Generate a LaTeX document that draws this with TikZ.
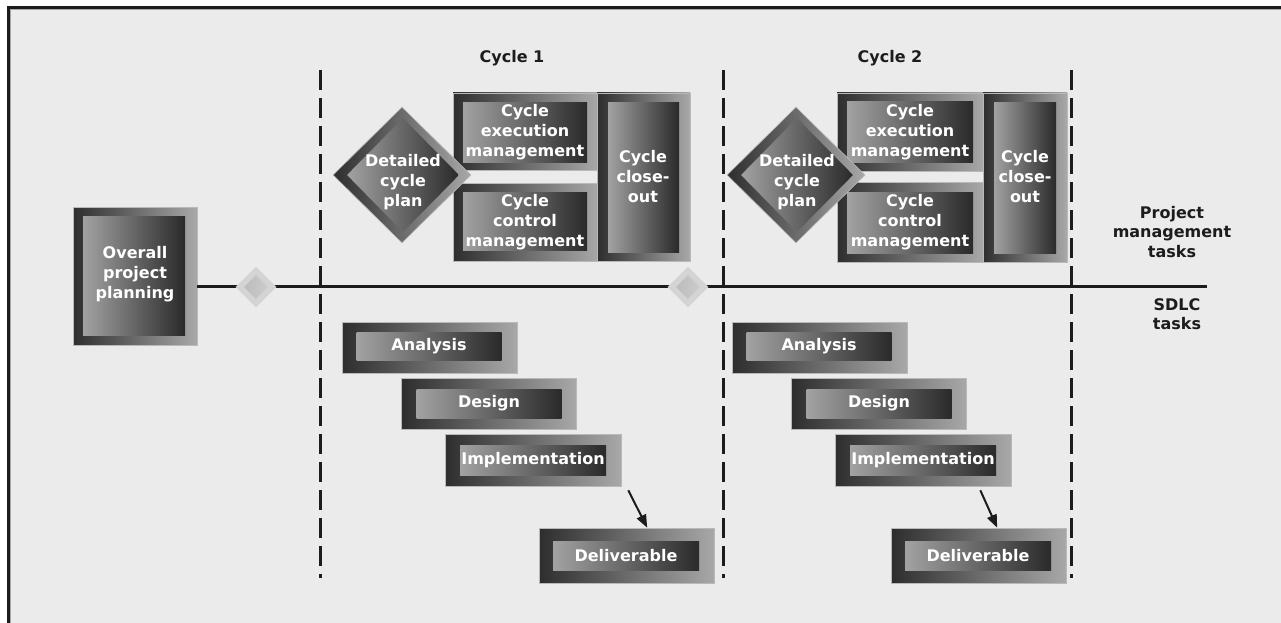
\documentclass[tikz,border=0pt]{standalone}
\usepackage{fontspec}
\setmainfont{DejaVu Sans}
\usetikzlibrary{arrows.meta,calc,shapes.geometric}
\definecolor{bg}{HTML}{EBEBEB}
\definecolor{dk}{HTML}{2E2E2E}
\definecolor{lt}{HTML}{A8A8A8}
\definecolor{ilt}{HTML}{A2A2A2}
\definecolor{idk}{HTML}{2A2A2A}
\definecolor{ink}{HTML}{1C1C1C}
\definecolor{msout}{HTML}{D4D4D4}
\definecolor{msinl}{HTML}{BCBCBC}
\definecolor{msinr}{HTML}{CCCCCC}
\begin{document}
\begin{tikzpicture}[x=1pt,y=-1pt,
  outerbox/.style={rectangle, draw=lt!80!white, line width=0.6pt, left color=dk, right color=lt, inner sep=0pt, minimum width=#1},
  outerbox/.default=175pt,
  innerbox/.style={rectangle, left color=ilt, right color=idk, inner sep=0pt, text=white, minimum width=#1},
  innerbox/.default=145pt,
  wtext/.style={text=white, font=\bfseries\fontsize{16}{20}\selectfont, align=center, inner sep=0pt},
  btext/.style={text=ink, font=\bfseries\fontsize{16}{19.5}\selectfont, align=center, inner sep=0pt},
  bigdia/.style={diamond, inner sep=0pt, shape aspect=1, draw=lt!80!white, line width=0.6pt, left color=dk, right color=lt, minimum width=138pt, minimum height=136pt},
  smalldia/.style={diamond, inner sep=0pt, left color=ilt, right color=idk, minimum width=112pt, minimum height=114pt},
  msdia/.style={diamond, inner sep=0pt, fill=msout, minimum width=41pt, minimum height=41pt},
  msdiain/.style={diamond, inner sep=0pt, left color=msinl, right color=msinr, minimum width=24pt, minimum height=24pt},
  mainline/.style={draw=ink, line width=3pt},
  cycleline/.style={draw=ink, line width=3pt, dash pattern=on 20pt off 8pt},
  flow/.style={draw=ink, line width=2pt, -{Triangle[length=13pt,width=10pt]}}
]
\useasboundingbox (0,0) rectangle (1281,623);
\fill[white] (0,0) rectangle (1281,623);
\fill[bg] (7,6) rectangle (1281,623);
\draw[ink, line width=3pt] (8.5,623) -- (8.5,7.5) -- (1281,7.5);
\draw[gray!70, line width=0.8pt] (10.6,623) -- (10.6,9.6) -- (1281,9.6);

% cycle boundaries
\coordinate (b1t) at (320,70); \coordinate (b1b) at (320,578);
\coordinate (b2t) at (723,70); \coordinate (b2b) at (723,578);
\coordinate (b3t) at (1071,70); \coordinate (b3b) at (1071,578);
\draw[cycleline] (b1t) -- (b1b);
\draw[cycleline] (b2t) -- (b2b);
\draw[cycleline] (b3t) -- (b3b);

% overall planning
\node[outerbox=124pt, minimum height=138pt] (oppo) at (135,276) {};
\node[innerbox=102pt, minimum height=119pt] (oppi) at (134,275.5) {};
\node[wtext] (opp) at (135,274) {Overall\\project\\planning};

% main line
\coordinate (lineend) at (1207,286);
\draw[mainline] (oppo.east |- lineend) -- (lineend);

% milestones
\node[msdia] (ms1o) at (256,287) {};
\node[msdiain] (ms1) at (256,287) {};
\node[msdia] (ms2o) at (688,287) {};
\node[msdiain] (ms2) at (688,287) {};

% labels
\node[btext] (c1) at (512,58) {Cycle 1};
\node[btext] (c2) at (890,58) {Cycle 2};
\node[btext] (pmt) at (1172,232) {Project\\management\\tasks};
\node[btext] (sdlc) at (1177,314) {SDLC\\tasks};

% ---------- Cycle 1 top ----------
\node[outerbox=145pt, minimum height=77pt] (ex1o) at (525.5,131.5) {};
\node[innerbox=124pt, minimum height=59pt] (ex1i) at (525,132.5) {};
\node[wtext] (ex1) at (525,132) {Cycle\\execution\\management};
\node[outerbox=145pt, minimum height=78pt] (ct1o) at (525.5,222) {};
\node[innerbox=124pt, minimum height=58pt] (ct1i) at (525,221) {};
\node[wtext] (ct1) at (525,222) {Cycle\\control\\management};
\node[outerbox=93pt, minimum height=168pt] (co1o) at (643.5,177) {};
\node[innerbox=71pt, minimum height=149pt] (co1i) at (643.5,177.5) {};
\node[wtext] (co1) at (643,177) {Cycle\\close-\\out};
\node[bigdia] (dp1o) at (402,175) {};
\node[smalldia] (dp1i) at (403,175) {};
\node[wtext] (dp1) at (403,182) {Detailed\\cycle\\plan};

% ---------- Cycle 2 top ----------
\node[outerbox=146pt, minimum height=78pt] (ex2o) at (910,132) {};
\node[innerbox=126pt, minimum height=60pt] (ex2i) at (910,132) {};
\node[wtext] (ex2) at (910,132) {Cycle\\execution\\management};
\node[outerbox=146pt, minimum height=80pt] (ct2o) at (910,222) {};
\node[innerbox=126pt, minimum height=61pt] (ct2i) at (910,222.5) {};
\node[wtext] (ct2) at (910,222) {Cycle\\control\\management};
\node[outerbox=84pt, minimum height=169pt] (co2o) at (1025,177.5) {};
\node[innerbox=62pt, minimum height=150pt] (co2i) at (1025,178) {};
\node[wtext] (co2) at (1025,177) {Cycle\\close-\\out};
\node[bigdia] (dp2o) at (796,175) {};
\node[smalldia] (dp2i) at (797,175) {};
\node[wtext] (dp2) at (797,182) {Detailed\\cycle\\plan};

% ---------- Cycle 1 SDLC ----------
\node[outerbox, minimum height=51pt] (an1o) at (429.5,347.5) {};
\node[innerbox, minimum height=28pt] (an1i) at (429,346) {};
\node[wtext] (an1) at (429,346) {Analysis};
\node[outerbox, minimum height=51pt] (de1o) at (489,403.5) {};
\node[innerbox, minimum height=29pt] (de1i) at (489,403.5) {};
\node[wtext] (de1) at (489,403.5) {Design};
\node[outerbox=176pt, minimum height=52pt] (im1o) at (533,460) {};
\node[innerbox=146pt, minimum height=30pt] (im1i) at (533,460) {};
\node[wtext] (im1) at (533,460) {Implementation};
\node[outerbox, minimum height=55pt] (dl1o) at (627,555.5) {};
\node[innerbox=146pt, minimum height=29pt] (dl1i) at (626,555.5) {};
\node[wtext] (dl1) at (626,555.5) {Deliverable};
\coordinate (a1s) at ($(im1o.south east)+(7,4)$);
\coordinate (a1e) at ($(dl1o.north west)+(108,0)$);
\draw[flow] (a1s) -- (a1e);

% ---------- Cycle 2 SDLC ----------
\node[outerbox, minimum height=51pt] (an2o) at (819.5,347.5) {};
\node[innerbox, minimum height=28pt] (an2i) at (819,346) {};
\node[wtext] (an2) at (819,346) {Analysis};
\node[outerbox, minimum height=51pt] (de2o) at (879,403.5) {};
\node[innerbox, minimum height=29pt] (de2i) at (879,403.5) {};
\node[wtext] (de2) at (879,403.5) {Design};
\node[outerbox=176pt, minimum height=52pt] (im2o) at (923,460) {};
\node[innerbox=146pt, minimum height=30pt] (im2i) at (923,460) {};
\node[wtext] (im2) at (923,460) {Implementation};
\node[outerbox, minimum height=55pt] (dl2o) at (979,555.5) {};
\node[innerbox=146pt, minimum height=29pt] (dl2i) at (978,555.5) {};
\node[wtext] (dl2) at (978,555.5) {Deliverable};
\coordinate (a2s) at ($(im2o.south east)+(-31,4)$);
\coordinate (a2e) at ($(dl2o.north west)+(106,0)$);
\draw[flow] (a2s) -- (a2e);
\end{tikzpicture}
\end{document}
